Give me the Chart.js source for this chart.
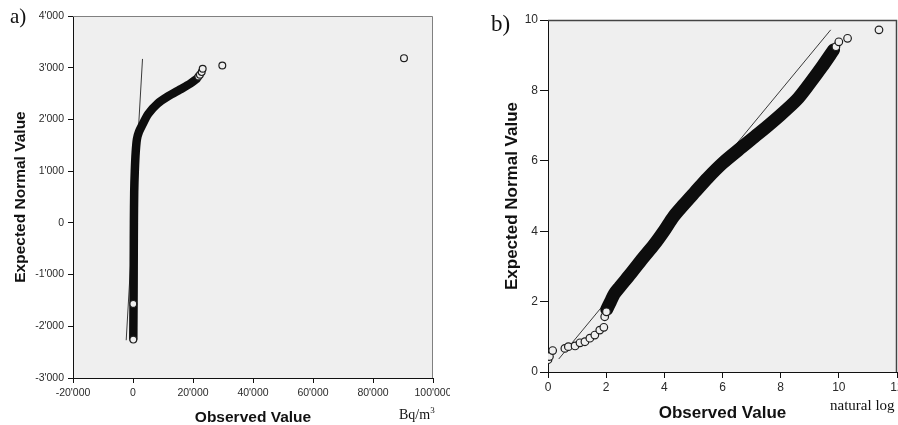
<!DOCTYPE html>
<html>
<head>
<meta charset="utf-8">
<script src="https://cdn.jsdelivr.net/npm/chart.js@4"></script>
<style>
  html, body { margin: 0; padding: 0; width: 898px; height: 425px; overflow: hidden; background: #fff; }
  .panel { position: absolute; top: 0; height: 425px; }
  #panelA { left: 0; width: 450px; }
  #panelB { left: 450px; width: 470px; }
  .tag { position: absolute; font-family: "Liberation Serif", "Times New Roman", serif; color: #111; line-height: 1; white-space: nowrap; }
</style>
</head>
<body>
<div class="panel" id="panelA"><canvas id="qqA" width="450" height="425"></canvas></div>
<div class="panel" id="panelB"><canvas id="qqB" width="470" height="425"></canvas></div>
<div class="tag" style="left:10px; top:6px; font-size:21px;">a)</div>
<div class="tag" style="left:491px; top:12px; font-size:23px;">b)</div>
<div class="tag" style="left:399px; top:406px; font-size:14px;">Bq/m<sup style="font-size:9px; vertical-align:6px;">3</sup></div>
<div class="tag" style="left:830px; top:398px; font-size:15px;">natural log</div>

<script>
// a) raw values (Bq/m3): the dense body of the Q-Q curve
const aBandObs = [100, 150, 200, 250, 300, 400, 600, 900, 1330, 2000, 3000, 5100, 8100, 11770, 15670, 19000, 21230];
const aBandExp = [-2235, -1800, -1320, -600, 0, 600, 1000, 1367, 1625, 1760, 1882, 2108, 2302, 2450, 2578, 2689, 2785];
// a) single points at both ends
const aTailObs = [100, 100, 21800, 22300, 22900, 23230, 29770, 90330];
const aTailExp = [-2257, -1567, 2830, 2863, 2915, 2979, 3043, 3185];
// a) normal reference line y = x
const aRefEnds = [-2270, 3170];

// b) natural log values
const bBandObs = [2.02, 2.15, 2.28, 2.47, 2.85, 3.25, 3.65, 4.00, 4.31, 4.65, 5.04, 5.50, 6.00, 6.55, 7.25, 7.92, 8.55, 9.00, 9.42, 9.82];
const bBandExp = [1.78, 2.00, 2.22, 2.42, 2.80, 3.22, 3.62, 4.02, 4.41, 4.74, 5.10, 5.52, 5.93, 6.31, 6.78, 7.25, 7.73, 8.20, 8.67, 9.15];
const bTailObs = [0.00, 0.05, 0.16, 0.58, 0.70, 0.93, 1.10, 1.27, 1.44, 1.61, 1.78, 1.92, 1.95, 2.01, 9.90, 10.00, 10.30, 11.38];
const bTailExp = [0.35, 0.44, 0.61, 0.67, 0.72, 0.74, 0.83, 0.86, 0.96, 1.05, 1.19, 1.27, 1.57, 1.71, 9.24, 9.38, 9.48, 9.72];
const bRefEnds = [0.37, 9.72];

// axis ranges and tick steps
const aX = [-20000, 100000, 20000];
const aY = [-3000, 4000, 1000];
const bX = [0, 12, 2];
const bY = [0, 10, 2];

const pts = (xs, ys) => xs.map((x, i) => ({x: x, y: ys[i]}));

// 4000 -> 4'000
function apos(v) {
  const s = Math.abs(v).toString().replace(/\B(?=(\d{3})+(?!\d))/g, "'");
  return (v < 0 ? '-' : '') + s;
}

// grey plot background
const plotBg = {
  id: 'plotBg',
  beforeDraw(chart, args, opts) {
    const {ctx, chartArea: a} = chart;
    ctx.save();
    ctx.fillStyle = opts.color;
    ctx.fillRect(a.left, a.top, a.right - a.left, a.bottom - a.top);
    ctx.restore();
  }
};
// top and right edge of the plot box
const frame = {
  id: 'frame',
  beforeDatasetsDraw(chart, args, opts) {
    const {ctx, chartArea: a} = chart;
    ctx.save();
    ctx.strokeStyle = opts.color;
    ctx.lineWidth = opts.width;
    ctx.beginPath();
    ctx.moveTo(a.left, a.top + 0.5);
    ctx.lineTo(a.right - 0.5, a.top + 0.5);
    ctx.lineTo(a.right - 0.5, a.bottom);
    ctx.stroke();
    ctx.restore();
  }
};

function datasets(band, tail, ref, bandW, r) {
  return [
    {
      data: ref, showLine: true, borderColor: '#3a3a3a', borderWidth: 1,
      pointRadius: 0, order: 3
    },
    {
      data: band, showLine: true, borderColor: '#0d0d0d', borderWidth: bandW,
      borderCapStyle: 'round', borderJoinStyle: 'round', tension: 0.3,
      pointRadius: 0, order: 2
    },
    {
      data: tail, showLine: false, pointRadius: r, pointBorderWidth: 1.2,
      pointBorderColor: '#1e1e1e', pointBackgroundColor: '#efefef', order: 1
    }
  ];
}

function axis(rng, fmt, c) {
  return {
    type: 'linear', min: rng[0], max: rng[1],
    ticks: {
      stepSize: rng[2], callback: fmt, autoSkip: false, maxRotation: 0,
      font: {family: 'Liberation Sans', size: c.tickSize}, color: '#2a2a2a', padding: c.pad
    },
    grid: {drawOnChartArea: false, tickLength: c.tick, color: '#111', tickWidth: 1},
    border: {color: '#111', width: 1},
    title: {
      display: true, text: c.title, color: '#111',
      font: {family: 'Liberation Sans', size: c.titleSize, weight: 'bold', lineHeight: 1},
      padding: c.titlePad
    },
    afterFit(s) {
      if (s.isHorizontal()) { s.height = c.size; s.paddingLeft = 0; s.paddingRight = 0; }
      else { s.width = c.size; s.paddingTop = 0; s.paddingBottom = 0; }
    }
  };
}

function qqChart(id, cfg) {
  return new Chart(document.getElementById(id), {
    type: 'scatter',
    data: {datasets: cfg.datasets},
    options: {
      responsive: false, animation: false, devicePixelRatio: 1,
      layout: {padding: cfg.padding},
      plugins: {
        legend: {display: false}, tooltip: {enabled: false},
        plotBg: {color: '#efefef'},
        frame: cfg.frame
      },
      scales: {x: cfg.x, y: cfg.y}
    },
    plugins: [plotBg, frame]
  });
}

qqChart('qqA', {
  datasets: datasets(pts(aBandObs, aBandExp), pts(aTailObs, aTailExp), pts(aRefEnds, aRefEnds), 8.5, 3.4),
  padding: {top: 16, right: 17, left: 0, bottom: 0},
  frame: {color: '#808080', width: 1},
  x: axis(aX, apos, {tickSize: 10.5, pad: 4, tick: 5, size: 47, title: 'Observed Value', titleSize: 15.5, titlePad: {top: 0, bottom: 0}}),
  y: axis(aY, apos, {tickSize: 10.5, pad: 4, tick: 5, size: 73, title: 'Expected Normal Value', titleSize: 15.5, titlePad: {top: 13, bottom: 0}})
});

qqChart('qqB', {
  datasets: datasets(pts(bBandObs, bBandExp), pts(bTailObs, bTailExp), pts(bRefEnds, bRefEnds), 13, 3.8),
  padding: {top: 20, right: 23, left: 0, bottom: 0},
  frame: {color: '#444', width: 1.5},
  x: axis(bX, v => v, {tickSize: 12, pad: 2, tick: 6, size: 53, title: 'Observed Value', titleSize: 17, titlePad: {top: 0, bottom: 3}}),
  y: axis(bY, v => v, {tickSize: 12, pad: 2, tick: 8, size: 98, title: 'Expected Normal Value', titleSize: 17, titlePad: {top: 54, bottom: 0}})
});
</script>
</body>
</html>
